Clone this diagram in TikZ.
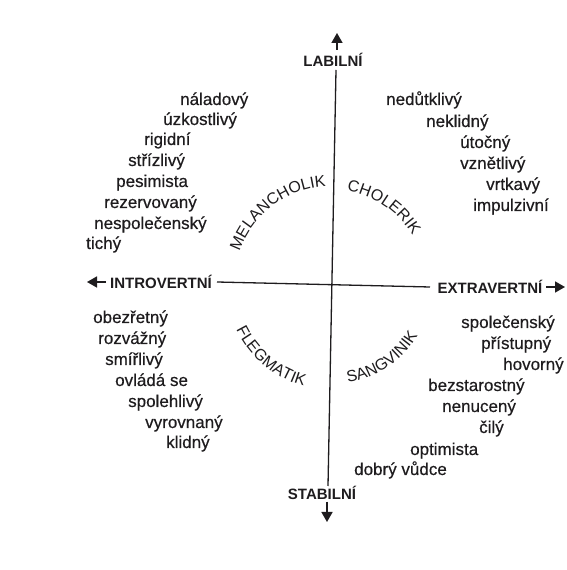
\documentclass[tikz,border=0pt]{standalone}
\usepackage{fontspec}
\setmainfont{Liberation Sans}
\newfontfamily\inkfont{Liberation Sans}[FakeBold=0.4]
\usetikzlibrary{decorations.text,arrows.meta,calc}
\definecolor{ink}{RGB}{30,28,30}
\begin{document}
\begin{tikzpicture}[x=1pt,y=1pt,color=ink,
  word/.style={anchor=west,inner sep=0pt,text=ink,font=\inkfont\fontsize{17}{20}\selectfont,text height=11pt,text depth=3pt},
  axislabel/.style={inner sep=0pt,text=ink,font=\fontsize{15}{18}\selectfont\bfseries},
  axisline/.style={draw=ink,line width=1.3pt},
  axisarrow/.style={draw=ink,fill=ink,line width=1.6pt,-{Triangle[width=11pt,length=10pt]}},
  arclabel/.style={decorate,decoration={text along path,text align=center,text color=ink,text={|\fontsize{16}{18}\selectfont|#1}}}
]
\useasboundingbox (0,0) rectangle (566,570);
\fill[white] (0,0) rectangle (566,570);
\coordinate (C) at (332,286);

% axes
\node[axislabel] (lab) at (333,510) {LABILNÍ};
\node[axislabel] (stab) at (322,77) {STABILNÍ};
\node[axislabel] (intro) at (161,288) {INTROVERTNÍ};
\node[axislabel] (extra) at (490,283) {EXTRAVERTNÍ};
\coordinate (vt) at (336,500);
\coordinate (vb) at (328,84);
\coordinate (hl) at (217,288);
\coordinate (hr) at (430,283);
\draw[axisline] (vt) -- (vb);
\draw[axisline] (hl) -- (hr);
\coordinate (ut0) at (337,520); \coordinate (ut1) at (337,537);
\coordinate (dt0) at (327,68);  \coordinate (dt1) at (327,48);
\coordinate (lt0) at (106,288); \coordinate (lt1) at (87,288);
\coordinate (rt0) at (546,283); \coordinate (rt1) at (565,283);
\draw[axisarrow] (ut0) -- (ut1);
\draw[axisarrow] (dt0) -- (dt1);
\draw[axisarrow] (lt0) -- (lt1);
\draw[axisarrow] (rt0) -- (rt1);

% temperament arcs
\path[arclabel=MELANCHOLIK] ($(C)+(172:98)$) arc[start angle=172,end angle=82,radius=98];
\path[arclabel=CHOLERIK] ($(C)+(96:94)$) arc[start angle=96,end angle=16,radius=94];
\path[arclabel=FLEGMATIK] ($(C)+(185:106)$) arc[start angle=185,end angle=275,radius=106];
\path[arclabel=SANGVINIK] ($(C)+(259:100)$) arc[start angle=259,end angle=349,radius=100];

% top left
\node[word] (w1) at (180,469) {náladový};
\node[word] (w2) at (163,449) {úzkostlivý};
\node[word] (w3) at (144,429) {rigidní};
\node[word] (w4) at (128,408) {střízlivý};
\node[word] (w5) at (116,387) {pesimista};
\node[word] (w6) at (104,366) {rezervovaný};
\node[word] (w7) at (94,345) {nespolečenský};
\node[word] (w8) at (86,325) {tichý};
% top right
\node[word] (c1) at (386,469) {nedůtklivý};
\node[word] (c2) at (426,447) {neklidný};
\node[word] (c3) at (460,426) {útočný};
\node[word] (c4) at (460,405) {vznětlivý};
\node[word] (c5) at (486,384) {vrtkavý};
\node[word] (c6) at (473,363) {impulzivní};
% bottom left
\node[word] (f1) at (93,251) {obezřetný};
\node[word] (f2) at (98,230) {rozvážný};
\node[word] (f3) at (105,209) {smířlivý};
\node[word] (f4) at (115,188) {ovládá se};
\node[word] (f5) at (128,167) {spolehlivý};
\node[word] (f6) at (145,146) {vyrovnaný};
\node[word] (f7) at (166,126) {klidný};
% bottom right
\node[word] (s1) at (461,246) {společenský};
\node[word] (s2) at (481,225) {přístupný};
\node[word] (s3) at (503,204) {hovorný};
\node[word] (s4) at (428,183) {bezstarostný};
\node[word] (s5) at (442,162) {nenucený};
\node[word] (s6) at (479,141) {čilý};
\node[word] (s7) at (410,119) {optimista};
\node[word] (s8) at (354,99) {dobrý vůdce};
\end{tikzpicture}
\end{document}
